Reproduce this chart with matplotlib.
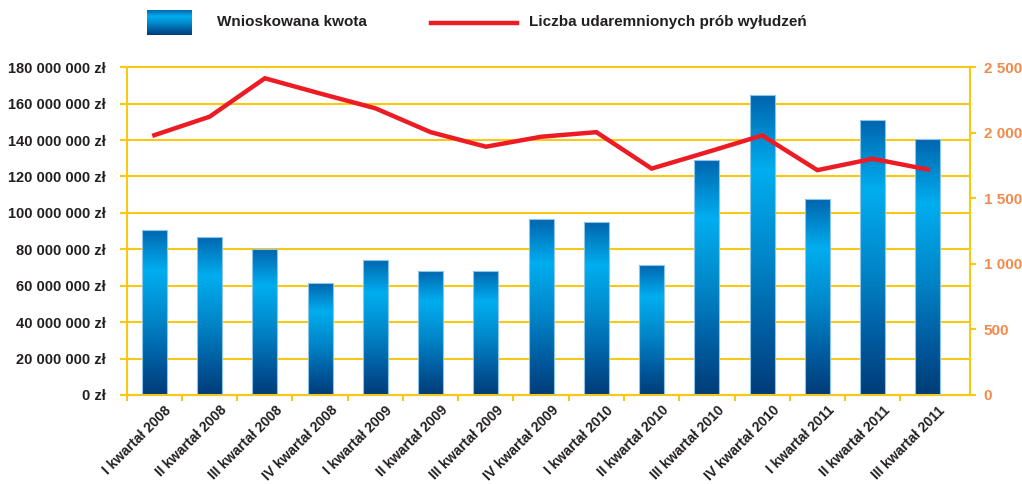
import numpy as np
import matplotlib
matplotlib.use("Agg")
import matplotlib.pyplot as plt
from matplotlib.colors import LinearSegmentedColormap
from matplotlib.lines import Line2D
from matplotlib.transforms import ScaledTranslation

plt.rcParams['font.family'] = ['Liberation Sans', 'DejaVu Sans']
plt.rcParams['font.weight'] = 'bold'

# data
quarters = ["I kwartał 2008", "II kwartał 2008", "III kwartał 2008", "IV kwartał 2008",
            "I kwartał 2009", "II kwartał 2009", "III kwartał 2009", "IV kwartał 2009",
            "I kwartał 2010", "II kwartał 2010", "III kwartał 2010", "IV kwartał 2010",
            "I kwartał 2011", "II kwartał 2011", "III kwartał 2011"]
kwota = [90.7e6, 86.8e6, 79.9e6, 61.5e6, 74.2e6, 68.3e6, 68.3e6, 96.4e6,
         94.9e6, 71.6e6, 129.3e6, 164.6e6, 107.4e6, 150.8e6, 140.5e6]
proby = [1982, 2123, 2416, 2300, 2187, 2005, 1894, 1970, 2005, 1727, 1852,
         1980, 1715, 1802, 1720]

yellow = '#f9c815'
dark = '#231f20'
orange = '#f28a4c'
red = '#ed1c24'

grad = LinearSegmentedColormap.from_list('bar', [
    (0.0, '#0065ae'), (0.25, '#00aeef'), (0.55, '#0085c8'),
    (0.8, '#005a9e'), (1.0, '#003c78')])
g = np.linspace(0, 1, 256).reshape(-1, 1)

fig = plt.figure(figsize=(10.22, 4.84), dpi=100)
ax = fig.add_axes([0.124, 0.184, 0.825, 0.677])

x = np.arange(len(quarters))
w = 0.45
bars = ax.bar(x, kwota, width=w, color='#0065ae', linewidth=0, zorder=2)
for b in bars:
    x0 = b.get_x()
    h = b.get_height()
    im = ax.imshow(g, cmap=grad, extent=[x0, x0 + w, 0, h], aspect='auto',
                   interpolation='bilinear', zorder=2.5)
    im.set_clip_path(b)
ax.bar(x, kwota, width=w, color='none', edgecolor='#8cc4ea', linewidth=0.8, zorder=3)

ax.set_xlim(-0.47, 14.76)
ax.set_ylim(0, 180e6)
ax.set_yticks(np.arange(0, 180e6 + 1, 20e6))
ax.yaxis.set_major_formatter(lambda v, p: f"{int(v):,} zł".replace(',', ' '))
ax.grid(axis='y', color=yellow, linewidth=1.5, zorder=1)
ax.set_axisbelow(True)
for gl in ax.get_ygridlines():
    gl.set_clip_on(False)

for s in ['top', 'right']:
    ax.spines[s].set_visible(False)
for s in ['left', 'bottom']:
    ax.spines[s].set_color(yellow)
    ax.spines[s].set_linewidth(1.5)
ax.tick_params(axis='y', colors=yellow, labelcolor=dark, labelsize=10.5, length=5,
               width=1.5, pad=10)

ax.set_xticks(x)
ax.set_xticklabels(quarters, rotation=45, ha='right', va='top', rotation_mode='anchor',
                   fontsize=10, color=dark)
ax.set_xticks(np.arange(-0.5, 14.5, 1), minor=True)
ax.tick_params(axis='x', which='major', length=0, pad=6)
ax.tick_params(axis='x', which='minor', length=4.5, width=1.5, color=yellow)
for lab in ax.get_xticklabels():
    lab.set_transform(lab.get_transform() + ScaledTranslation(10 / 100, 0, fig.dpi_scale_trans))

ax2 = ax.twinx()
ax2.plot(x, proby, color=red, linewidth=3.2, solid_joinstyle='miter', zorder=5)
ax2.set_ylim(0, 2500)
ax2.set_yticks(np.arange(0, 2501, 500))
ax2.yaxis.set_major_formatter(lambda v, p: f"{int(v):,}".replace(',', ' '))
for s in ['top', 'left', 'bottom']:
    ax2.spines[s].set_visible(False)
ax2.spines['right'].set_color(yellow)
ax2.spines['right'].set_linewidth(1.5)
ax2.tick_params(axis='y', colors=yellow, labelcolor=orange, labelsize=11, length=4,
                width=1.5, pad=6)

# legend
lax = fig.add_axes([147 / 1022, 1 - 35 / 484, 45 / 1022, 25 / 484])
lax.imshow(g, cmap=grad, aspect='auto', interpolation='bilinear')
lax.axis('off')
fig.text(217 / 1022, 1 - 22 / 484, "Wnioskowana kwota", fontsize=11, color=dark,
         va='center', ha='left')
fig.add_artist(Line2D([431 / 1022, 517 / 1022], [1 - 22.5 / 484, 1 - 22.5 / 484],
                      color=red, linewidth=3.2))
fig.text(529 / 1022, 1 - 22 / 484, "Liczba udaremnionych prób wyłudzeń", fontsize=11,
         color=dark, va='center', ha='left')

fig.savefig("out.png", dpi=100)
